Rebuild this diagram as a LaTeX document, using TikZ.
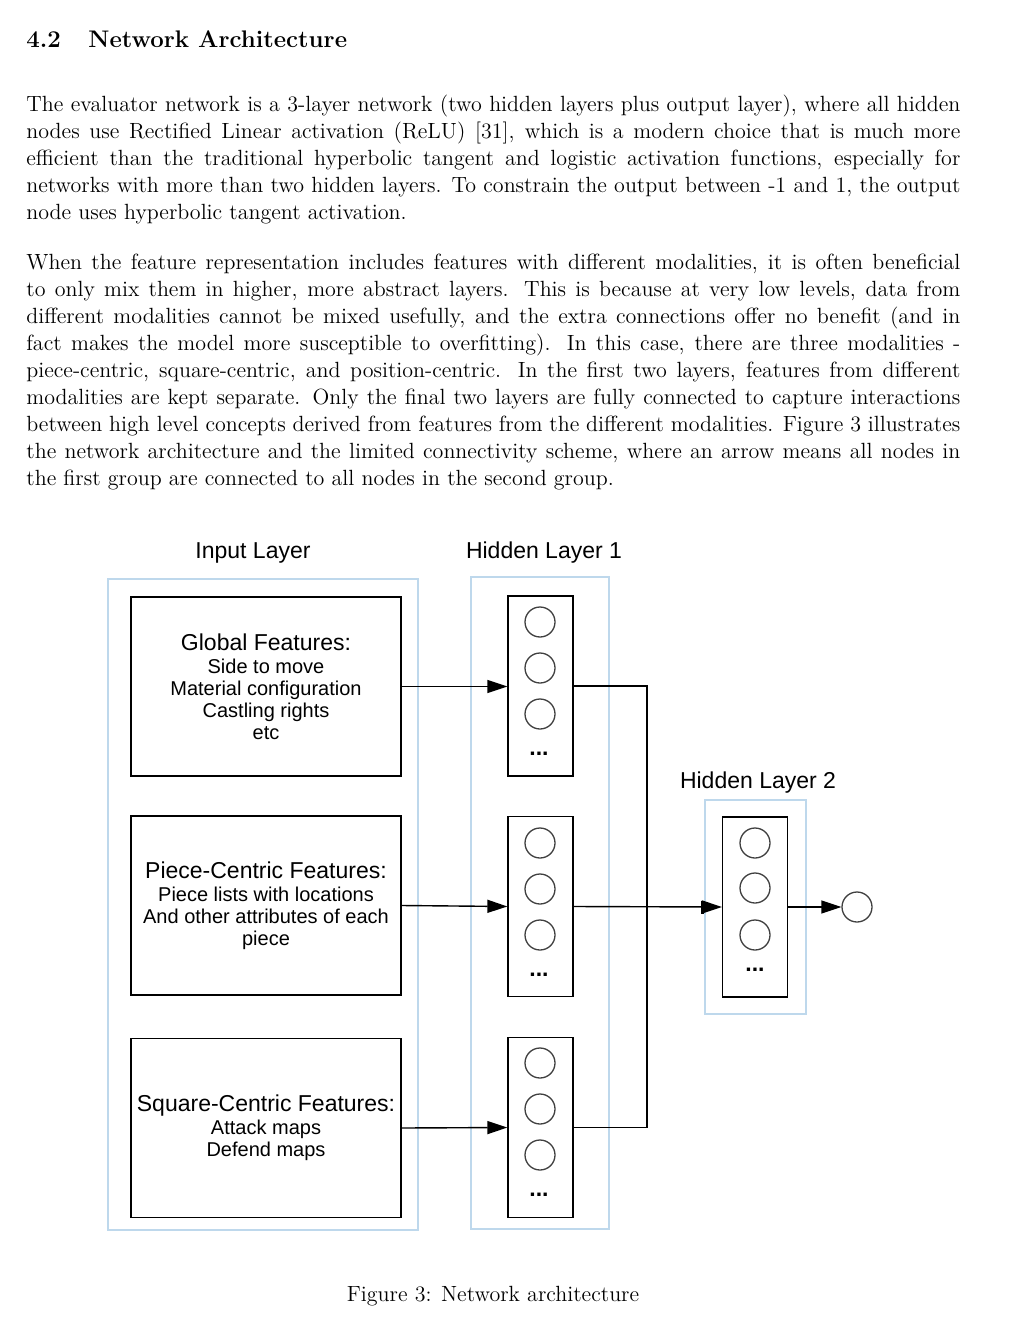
\documentclass[tikz,border=0pt]{standalone}
\usepackage{fontspec}
\newfontfamily\arial{Liberation Sans}
\usetikzlibrary{arrows.meta,calc}
\definecolor{lblue}{RGB}{190,216,236}
\newcommand\titlfont{\arial\fontsize{11.5}{11}\selectfont}
\begin{document}
\begin{tikzpicture}[x=0.5pt,y=-0.5pt,
  body/.style={anchor=base west,inner sep=0,font=\fontsize{11}{13.5}\selectfont},
  grp/.style={draw=lblue,line width=1pt},
  feat/.style={draw=black,line width=0.65pt,minimum width=135pt,minimum height=89.5pt,inner sep=0,align=center,font=\arial\fontsize{10}{11}\selectfont},
  col/.style={draw=black,line width=0.65pt,minimum width=32.5pt,minimum height=90pt,inner sep=0},
  neuron/.style={draw=black!75,line width=0.65pt,circle,minimum size=15pt,inner sep=0},
  dotsn/.style={font=\arial\bfseries\fontsize{11.5}{11}\selectfont,inner sep=0},
  lbl/.style={font=\arial\fontsize{11.5}{13}\selectfont,anchor=base,inner sep=0},
  conn/.style={line width=0.7pt,draw=black},
  tip/.style={-{Triangle[length=10pt,width=6.5pt]}}
]
\useasboundingbox (0,0) rectangle (1017,1336);
\fill[white] (0,0) rectangle (1017,1336);

% heading
\node[anchor=base west,inner sep=0,font=\fontsize{12}{14}\selectfont\bfseries] (secnum) at (26,48) {4.2};
\node[anchor=base west,inner sep=0,font=\fontsize{12}{14}\selectfont\bfseries] (sectitle) at (88,48) {Network Architecture};

% paragraph 1
\node[body] (p1a) at (26,111.5) {\makebox[467pt][s]{The evaluator network is a 3-layer network (two hidden layers plus output layer), where all hidden}};
\node[body] (p1b) at (26,138.5) {\makebox[467pt][s]{nodes use Rectified Linear activation (ReLU) [31], which is a modern choice that is much more}};
\node[body] (p1c) at (26,165.5) {\makebox[467pt][s]{efficient than the traditional hyperbolic tangent and logistic activation functions, especially for}};
\node[body] (p1d) at (26,192.5) {\makebox[467pt][s]{networks with more than two hidden layers. To constrain the output between -1 and 1, the output}};
\node[body] (p1e) at (26,219.5) {node uses hyperbolic tangent activation.};

% paragraph 2
\node[body] (p2a) at (26,269.5) {\makebox[467pt][s]{When the feature representation includes features with different modalities, it is often beneficial}};
\node[body] (p2b) at (26,296.5) {\makebox[467pt][s]{to only mix them in higher, more abstract layers. This is because at very low levels, data from}};
\node[body] (p2c) at (26,323.5) {\makebox[467pt][s]{different modalities cannot be mixed usefully, and the extra connections offer no benefit (and in}};
\node[body] (p2d) at (26,350.5) {\makebox[467pt][s]{fact makes the model more susceptible to overfitting). In this case, there are three modalities -}};
\node[body] (p2e) at (26,377.5) {\makebox[467pt][s]{piece-centric, square-centric, and position-centric. In the first two layers, features from different}};
\node[body] (p2f) at (26,404.5) {\makebox[467pt][s]{modalities are kept separate. Only the final two layers are fully connected to capture interactions}};
\node[body] (p2g) at (26,431.5) {\makebox[467pt][s]{between high level concepts derived from features from the different modalities. Figure 3 illustrates}};
\node[body] (p2h) at (26,458.5) {\makebox[467pt][s]{the network architecture and the limited connectivity scheme, where an arrow means all nodes in}};
\node[body] (p2i) at (26,485.5) {the first group are connected to all nodes in the second group.};

% layer labels
\node[lbl] (linput) at (253,558) {Input Layer};
\node[lbl] (lh1) at (544,558) {Hidden Layer 1};
\node[lbl] (lh2) at (758,788) {Hidden Layer 2};

% group frames
\draw[grp] (108,579) rectangle (418,1230);
\draw[grp] (471,577) rectangle (609,1229);
\draw[grp] (705,800) rectangle (806,1014);

% feature boxes
\node[feat] (g) at (266,686.5) {{\titlfont Global Features:}\\[0.5pt]Side to move\\Material configuration\\Castling rights\\etc};
\node[feat] (p) at (266,905.5) {{\titlfont Piece-Centric Features:}\\[0.5pt]Piece lists with locations\\And other attributes of each\\piece};
\node[feat] (s) at (266,1128) {{\titlfont Square-Centric Features:}\\[0.5pt]Attack maps\\Defend maps};

% hidden layer 1 columns
\node[col] (h1a) at (540.5,686) {};
\node[col] (h1b) at (540.5,906.5) {};
\node[col] (h1c) at (540.5,1127.5) {};
\foreach \c/\t in {h1a/596,h1b/817,h1c/1037}{
  \node[neuron] (\c1) at (540,\t+26) {};
  \node[neuron] (\c2) at (540,\t+72) {};
  \node[neuron] (\c3) at (540,\t+118) {};
  \node[dotsn] (\c d) at (539,\t+158) {...};
}

% hidden layer 2
\node[col] (h2) at (755,907) {};
\node[neuron] (h21) at (755,843) {};
\node[neuron] (h22) at (755,888) {};
\node[neuron] (h23) at (755,935) {};
\node[dotsn] (h2d) at (755,970) {...};

% output
\node[neuron] (out) at (857,907) {};

% connectors
\draw[conn,tip] (g.east) -- (g.east -| h1a.west);
\draw[conn,tip] (p.east) -- (h1b.west);
\draw[conn,tip] (s.east) -- (h1c.west);
\coordinate (bus) at (647,907);
\draw[conn] (h1a.east) -| (bus) |- (h1c.east);
\draw[conn,tip] (h1b.east) -- (h2.west);
\draw[line width=1.5pt] ($(h2.west)+(-19,-6.5)$) -- ($(h2.west)+(-19,6.5)$);
\draw[conn,tip] (h2.east) -- (out.west);

% caption
\node[anchor=base,inner sep=0,font=\fontsize{11}{13.5}\selectfont] (cap) at (493,1301) {Figure 3: Network architecture};
\end{tikzpicture}
\end{document}
